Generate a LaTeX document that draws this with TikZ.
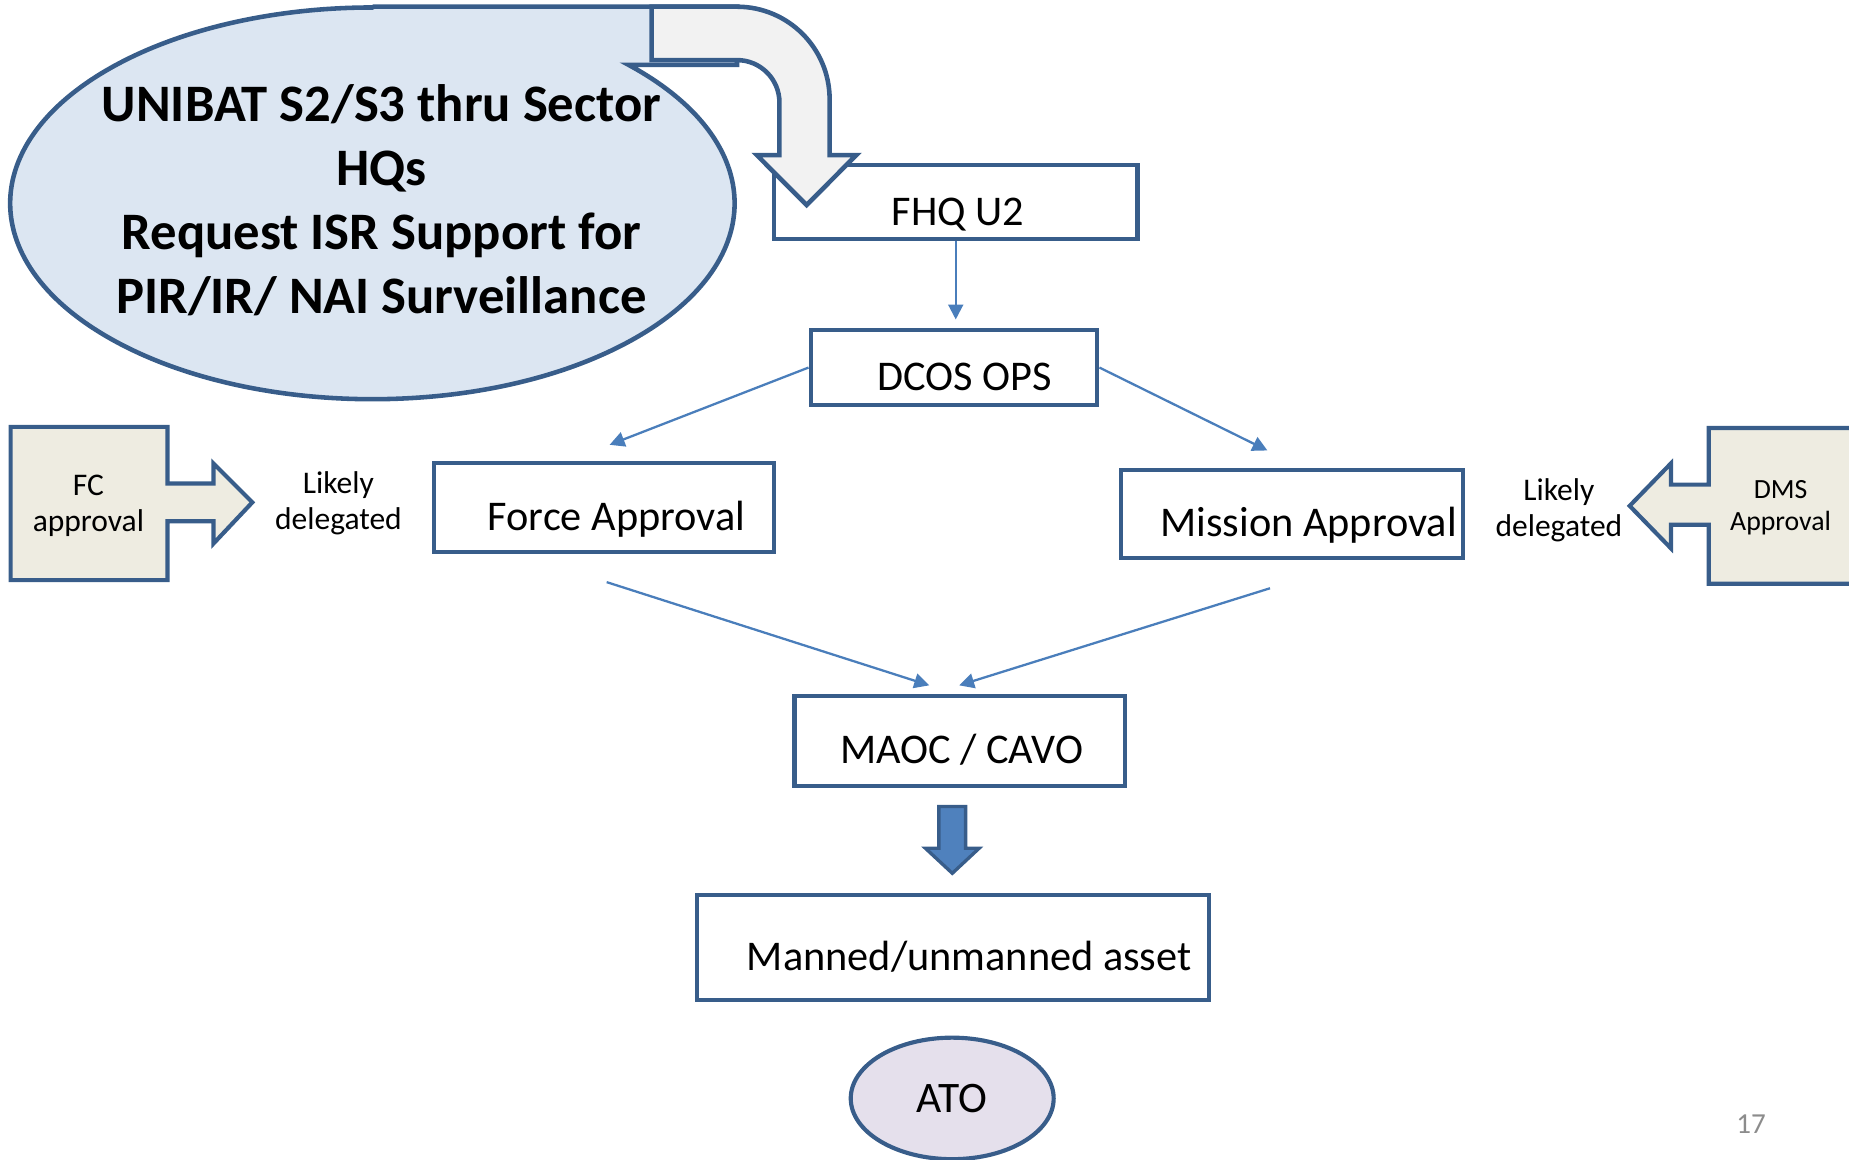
\documentclass[tikz,border=0pt]{standalone}
\usepackage{fontspec}
\setmainfont{Carlito}
\usetikzlibrary{arrows.meta,shapes.geometric,calc}

\definecolor{boxblue}{HTML}{385D8A}
\definecolor{lineblue}{HTML}{4A7EBB}
\definecolor{ovalfill}{HTML}{DCE6F2}
\definecolor{arrowgray}{HTML}{F2F2F2}
\definecolor{tanfill}{HTML}{EEECE1}
\definecolor{atofill}{HTML}{E5E0EC}
\definecolor{blockfill}{HTML}{4F81BD}
\definecolor{pagegray}{HTML}{8C8C8C}

\tikzset{
	flowbox/.style={draw=boxblue, line width=1pt, fill=white, inner sep=0pt, text height=11pt, text depth=0pt, font=\fontsize{10.2}{12}\selectfont},
	link/.style={draw=lineblue, line width=0.55pt, -{Triangle[length=3.6pt,width=3.6pt]}},
	approvalarrow/.style={draw=boxblue, line width=1pt, fill=tanfill, line join=miter},
	notetext/.style={align=center, inner sep=0pt, font=\fontsize{7.6}{8.8}\selectfont}
}

\begin{document}
\begin{tikzpicture}[x=0.01cm, y=0.01cm]
		\useasboundingbox (0,0) rectangle (1568,-983);
		% request oval
		\draw[draw=boxblue, line width=1.1pt, fill=ovalfill] (317,-5.7) -- (625,-5.7) -- (625,-55) -- (533,-55) arc[start angle=45, end angle=-270, x radius=3.07cm, y radius=1.66cm] -- cycle;
		\node[font=\bfseries\fontsize{12.7}{15.45}\selectfont, align=center, inner sep=0pt] (req) at (323.5,-170) {UNIBAT S2/S3 thru Sector\\HQs\\Request ISR Support for\\PIR/IR/ NAI Surveillance};
		% boxes
		\node[flowbox, minimum width=3.08cm, minimum height=0.63cm] (fhq) at (810.5,-171.5) {\hspace*{1pt}FHQ U2};
		\node[flowbox, minimum width=2.43cm, minimum height=0.64cm] (dcos) at (809,-311.7) {\hspace*{5pt}DCOS OPS};
		\node[flowbox, minimum width=2.88cm, minimum height=0.75cm] (fa) at (512.2,-430.4) {\hspace*{6pt}Force Approval};
		\node[flowbox, minimum width=2.9cm, minimum height=0.75cm] (ma) at (1095.8,-436) {\hspace*{8pt}Mission Approval};
		\node[flowbox, minimum width=2.8cm, minimum height=0.76cm] (mc) at (813.8,-628.4) {\hspace*{1pt}MAOC / CAVO};
		\node[flowbox, minimum width=4.34cm, minimum height=0.89cm] (mu) at (807.9,-803.5) {\hspace*{8pt}Manned/unmanned asset};
		\node[ellipse, draw=boxblue, line width=1pt, fill=atofill, minimum width=1.72cm, minimum height=1.03cm, inner sep=0pt, font=\fontsize{10.5}{12}\selectfont] (ato) at (807.5,-931.5) {ATO};
		% bent arrow into FHQ U2
		\draw[draw=boxblue, line width=1.1pt, fill=arrowgray, line join=miter] (552.6,-5.7) -- (625,-5.7) arc[start angle=90, end angle=0, radius=0.785cm] -- (703.5,-131.5) -- (726.2,-131.5) -- (684,-173.9) -- (641.8,-131.5) -- (661,-131.5) -- (661,-87) arc[start angle=0, end angle=90, radius=0.36cm] -- (552.6,-51) -- cycle;
		% approval arrows
		\draw[approvalarrow] (9,-362) -- (142,-362) -- (142,-410) -- (181,-410) -- (181,-393) -- (214,-426) -- (181,-461) -- (181,-442) -- (142,-442) -- (142,-492) -- (9,-492) -- cycle;
		\node[notetext] (fc) at (75,-429) {FC\\approval};
		\node[notetext] (fcdel) at (287,-427) {Likely\\delegated};
		\draw[approvalarrow] (1449,-363) -- (1449,-411) -- (1417,-411) -- (1417,-393) -- (1382,-429) -- (1417,-465) -- (1417,-445) -- (1449,-445) -- (1449,-495) -- (1590,-495) -- (1590,-363) -- cycle;
		\node[notetext, font=\fontsize{6.7}{7.6}\selectfont] (dms) at (1510,-430.5) {DMS\\Approval};
		\node[notetext] (msdel) at (1322,-432.6) {Likely\\delegated};
		% links
		\coordinate (dcos-in) at ($(fhq.south |- dcos.north)+(0,7)$);
		\coordinate (fa-in) at ($(fa.north)+(4.8,13.9)$);
		\coordinate (ma-in) at ($(ma.north)+(-21,14.7)$);
		\coordinate (fa-out) at ($(fa.south)+(2.3,-24)$);
		\coordinate (ma-out) at ($(ma.south)+(-18.8,-23.6)$);
		\coordinate (mc-inl) at ($(mc.north)+(-25.8,7.4)$);
		\coordinate (mc-inr) at ($(mc.north)+(-0.4,7.4)$);
		\draw[link] (fhq.south) -- (dcos-in);
		\draw[link] (dcos.west) -- (fa-in);
		\draw[link] (dcos.east) -- (ma-in);
		\draw[link] (fa-out) -- (mc-inl);
		\draw[link] (ma-out) -- (mc-inr);
		% block arrow to asset
		\draw[draw=boxblue, line width=0.8pt, fill=blockfill, line join=miter] (796.2,-684) -- (818.9,-684) -- (818.9,-719.4) -- (830.3,-719.4) -- (807.6,-740.6) -- (784.8,-719.4) -- (796.2,-719.4) -- cycle;
		\node[text=pagegray, font=\fontsize{7}{8}\selectfont] (pg) at (1485,-953) {17};
\end{tikzpicture}
\end{document}
